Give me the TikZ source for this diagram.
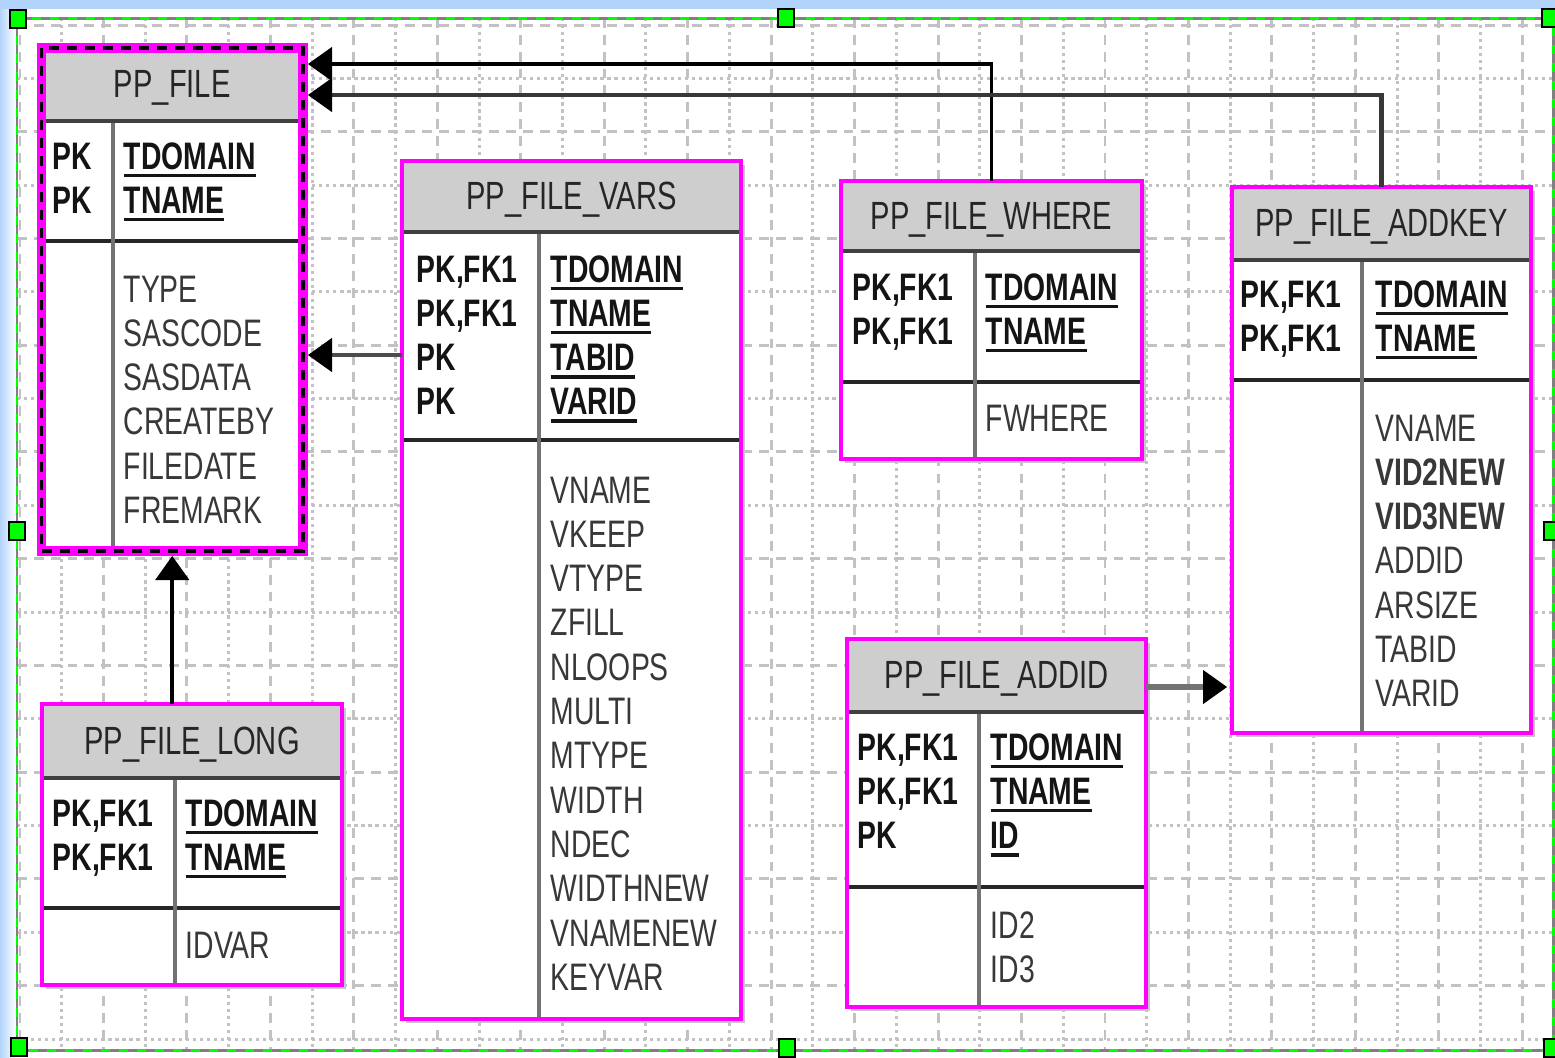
\documentclass[tikz,border=0pt]{standalone}
\usepackage{fontspec}
\usepackage{tikz}
\usetikzlibrary{arrows.meta}
\newfontfamily\erfont{Liberation Sans}[FakeStretch=0.74]
\definecolor{bgblue}{RGB}{178,212,250}
\definecolor{hgreen}{RGB}{0,255,0}
\definecolor{emag}{RGB}{255,0,255}
\definecolor{gridc}{RGB}{194,194,194}
\definecolor{hdrc}{RGB}{206,206,206}
\newcommand{\ukey}[1]{\setbox0\hbox{#1}\rlap{\rule[-2.3pt]{\wd0}{1pt}}\box0}
% name, x1, y1, x2, y2, header bottom, key line, divider, title
\newcommand{\erbox}[9]{%
  \fill[eshd] (#2+4,#3+4) rectangle (#4+4,#5+4);
  \node[ebox, minimum width=(#4-#2)*0.1mm, minimum height=(#5-#3)*0.1mm] (#1) at ({(#2+#4)/2},{(#3+#5)/2}) {};
  \fill[ehdr] (#2,#3) rectangle (#4,#6);
  \draw[sln] (#2,#7) -- (#4,#7);
  \draw[dln] (#8,#6) -- (#8,#5);
  \draw[hln] (#2,#6) -- (#4,#6);
  \draw[eedge] (#2,#3) rectangle (#4,#5);
  \node[ttl] (#1-ttl) at ({(#2+#4)/2},{(#3+#6)/2+13}) {#9};}
% one column of entries: prefix, x, first baseline, style, list
\newcommand{\cols}[5]{%
  \foreach \t [count=\i] in {#5} {\node[#4] (#1\i) at (#2,{#3+44.3*(\i-1)}) {\t};}}
\tikzset{
  ebox/.style={fill=white, inner sep=0pt, outer sep=0pt},
  eshd/.style={fill=gray!45},
  ehdr/.style={fill=hdrc},
  hln/.style={draw=black!75, line width=1.4pt},
  sln/.style={draw=black!85, line width=0.9pt},
  dln/.style={draw=black!55, line width=1.1pt},
  eedge/.style={draw=emag, line width=1.15pt},
  selbox/.style={draw=emag, line width=2.6pt,
      postaction={draw=black, line width=0.9pt, dash pattern=on 1mm off 0.8mm}},
  ttl/.style={anchor=base, inner sep=0pt, text=black!85, font=\erfont\fontsize{11.2}{13}\selectfont},
  fld/.style={anchor=base west, inner sep=0pt, text=black!78, font=\erfont\fontsize{10.9}{13}\selectfont},
  kfld/.style={fld, text=black!92, font=\erfont\bfseries\fontsize{10.9}{13}\selectfont},
  gdash/.style={gridc, line width=0.85pt, dash pattern=on 2.8pt off 2pt},
  gdot/.style={gridc, line width=0.85pt, dash pattern=on 0.9pt off 1.1pt},
  hndl/.style={fill=hgreen, draw=black, line width=0.6pt},
  rarr/.style={-{Triangle[length=2.4mm, width=3.4mm, color=black, fill=black, line width=0.3pt]}, shorten >=0.5mm},
  c1/.style={black, line width=1.1pt},
  c2/.style={black!78, line width=1.4pt},
  c3/.style={black!70, line width=1.1pt},
  c4/.style={black!55, line width=1.7pt},
}
\begin{document}
\begin{tikzpicture}[x=0.1mm, y=-0.1mm]
\useasboundingbox (0,0) rectangle (1555,1057);
% canvas
\fill[bgblue] (0,0) rectangle (1555,1057);
\shade[left color=bgblue, right color=white] (0,9) rectangle (16,1057);
\fill[white] (16,9) rectangle (1555,1057);
\foreach \i in {0,2,...,36} \draw[gdash] (20+41.73*\i,18) -- (20+41.73*\i,1050);
\foreach \i in {1,3,...,35} \draw[gdot] (20+41.73*\i,18) -- (20+41.73*\i,1050);
\foreach \j in {0,2,...,18} \draw[gdash] (17,25+53.37*\j) -- (1553,25+53.37*\j);
\foreach \j in {1,3,...,19} \draw[gdot] (17,25+53.37*\j) -- (1553,25+53.37*\j);
\draw[gray, line width=0.85pt] (17,18) rectangle (1553,1050);
\draw[hgreen, line width=0.85pt, dash pattern=on 0.9mm off 0.9mm] (17,18) rectangle (1553,1050);

% tables
\erbox{file}{41.5}{48}{303}{551}{121}{241}{113}{PP\_FILE}
\draw[selbox] (file.north west) rectangle (file.south east);
\cols{file-k}{52}{169}{kfld}{PK,PK}
\cols{file-n}{123}{169}{kfld}{\ukey{TDOMAIN},\ukey{TNAME}}
\cols{file-a}{123}{302}{fld}{TYPE,SASCODE,SASDATA,CREATEBY,FILEDATE,FREMARK}

\erbox{vars}{402}{161}{741}{1019}{232}{440}{539}{PP\_FILE\_VARS}
\cols{vars-k}{416}{282}{kfld}{{PK,FK1},{PK,FK1},PK,PK}
\cols{vars-n}{550}{282}{kfld}{\ukey{TDOMAIN},\ukey{TNAME},\ukey{TABID},\ukey{VARID}}
\cols{vars-a}{550}{503}{fld}{VNAME,VKEEP,VTYPE,ZFILL,NLOOPS,MULTI,MTYPE,WIDTH,NDEC,WIDTHNEW,VNAMENEW,KEYVAR}

\erbox{where}{841}{181}{1142}{459}{251}{382}{975}{PP\_FILE\_WHERE}
\cols{where-k}{852}{300}{kfld}{{PK,FK1},{PK,FK1}}
\cols{where-n}{985}{300}{kfld}{\ukey{TDOMAIN},\ukey{TNAME}}
\cols{where-a}{985}{431}{fld}{FWHERE}

\erbox{addkey}{1232}{186.5}{1531}{733}{260}{380}{1362}{PP\_FILE\_ADDKEY}
\cols{addkey-k}{1240}{307}{kfld}{{PK,FK1},{PK,FK1}}
\cols{addkey-n}{1375}{307}{kfld}{\ukey{TDOMAIN},\ukey{TNAME}}
\cols{addkey-a}{1375}{441}{fld}{VNAME,\textbf{VID2NEW},\textbf{VID3NEW},ADDID,ARSIZE,TABID,VARID}

\erbox{addid}{847}{639}{1146}{1007}{712}{887}{979}{PP\_FILE\_ADDID}
\cols{addid-k}{857}{760}{kfld}{{PK,FK1},{PK,FK1},PK}
\cols{addid-n}{990}{760}{kfld}{\ukey{TDOMAIN},\ukey{TNAME},\ukey{ID}}
\cols{addid-a}{990}{938}{fld}{ID2,ID3}

\erbox{long}{42}{704}{342}{985}{778}{908}{175}{PP\_FILE\_LONG}
\cols{long-k}{52}{826}{kfld}{{PK,FK1},{PK,FK1}}
\cols{long-n}{185}{826}{kfld}{\ukey{TDOMAIN},\ukey{TNAME}}
\cols{long-a}{185}{958}{fld}{IDVAR}

% relationships
\draw[rarr, c1] (where.north) |- (file.east |- 0,64);
\draw[rarr, c2] (addkey.north) |- (file.east |- 0,95);
\draw[rarr, c3] (vars.west |- 0,355) -- (file.east |- 0,355);
\draw[rarr, c1] (long.north -| file.south) -- (file.south);
\draw[rarr, c4] (addid.east |- 0,687) -- (addkey.west |- 0,687);

% selection handles
\foreach \p in {(18,19),(786,18),(1550,18),(17,531),(1552,531),(19,1047),(787,1048),(1552,1048)}
  \draw[hndl] \p +(-8,-9) rectangle +(8,9);
\end{tikzpicture}
\end{document}
